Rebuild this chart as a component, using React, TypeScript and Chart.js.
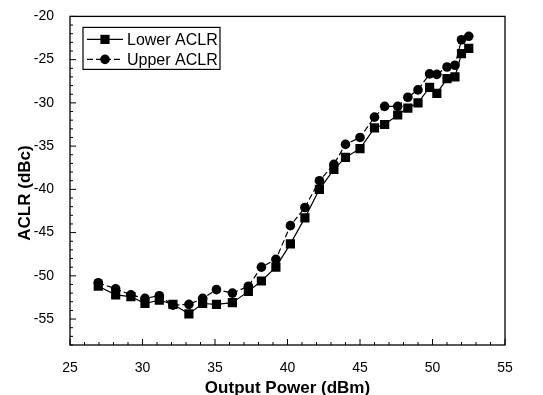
import { useEffect, useRef } from "react";
import { Chart, registerables } from "chart.js";

Chart.register(...registerables);

const outputPower = [26.95, 28.15, 29.2, 30.17, 31.16, 32.1, 33.2, 34.15, 35.1, 36.2, 37.3, 38.2, 39.2, 40.2, 41.2, 42.2, 43.2, 44.0, 45.0, 46.0, 46.7, 47.6, 48.3, 49.0, 49.8, 50.3, 51.0, 51.55, 52.0, 52.5];
const lowerACLR = [-51.2, -52.2, -52.4, -53.2, -52.8, -53.3, -54.4, -53.2, -53.3, -53.1, -51.8, -50.6, -49.0, -46.3, -43.3, -40.0, -37.7, -36.3, -35.3, -32.9, -32.5, -31.4, -30.6, -30.0, -28.2, -28.9, -27.2, -27.0, -24.3, -23.7];
const upperACLR = [-50.8, -51.5, -52.2, -52.6, -52.3, -53.4, -53.3, -52.6, -51.6, -52.0, -51.2, -49.0, -48.1, -44.2, -42.1, -39.0, -37.1, -34.8, -34.0, -31.65, -30.4, -30.4, -29.35, -28.5, -26.65, -26.7, -25.85, -25.65, -22.7, -22.3];
const seriesNames = ["Lower ACLR", "Upper ACLR"];
const xTickLabels = [25, 30, 35, 40, 45, 50, 55];
const yTickLabels = [-55, -50, -45, -40, -35, -30, -25, -20];
const xTitle = "Output Power (dBm)";
const yTitle = "ACLR (dBc)";

const FONT = "'Liberation Sans', Arial, sans-serif";

const frameAndTicks = {
  id: "frameAndTicks",
  afterDatasetsDraw(chart: any) {
    const { ctx, chartArea: a, scales } = chart;
    ctx.save();
    ctx.strokeStyle = "#000";
    ctx.lineWidth = 1.3;
    ctx.setLineDash([]);
    ctx.strokeRect(a.left, a.top, a.right - a.left, a.bottom - a.top);
    ctx.lineWidth = 1;
    const xs = scales.x;
    xs.ticks.forEach((t: any) => {
      const px = xs.getPixelForValue(t.value);
      const major = xTickLabels.includes(t.value);
      const len = major ? 6 : 3;
      ctx.beginPath();
      ctx.moveTo(px, a.bottom);
      ctx.lineTo(px, a.bottom - len);
      ctx.stroke();
    });
    const ys = scales.y;
    ys.ticks.forEach((t: any) => {
      const py = ys.getPixelForValue(t.value);
      const major = yTickLabels.includes(t.value);
      const len = major ? 6 : 3;
      ctx.beginPath();
      ctx.moveTo(a.left, py);
      ctx.lineTo(a.left + len, py);
      ctx.stroke();
    });
    // y-axis title
    ctx.translate(25, 193);
    ctx.rotate(-Math.PI / 2);
    ctx.fillStyle = "#000";
    ctx.font = `bold 17px ${FONT}`;
    ctx.textAlign = "center";
    ctx.textBaseline = "middle";
    ctx.fillText(yTitle, 0, 0);
    ctx.restore();
  },
};

const customLegend = {
  id: "customLegend",
  afterDraw(chart: any) {
    const { ctx, chartArea: a } = chart;
    const bx = a.left + 13;
    const by = a.top + 11;
    const bw = 137;
    const bh = 42;
    ctx.save();
    ctx.fillStyle = "#fff";
    ctx.fillRect(bx, by, bw, bh);
    ctx.strokeStyle = "#000";
    ctx.lineWidth = 1.2;
    ctx.strokeRect(bx, by, bw, bh);
    chart.data.datasets.forEach((ds: any, i: number) => {
      const cy = by + 12 + i * 20;
      const x0 = bx + 4;
      const x1 = bx + 40;
      const mx = (x0 + x1) / 2;
      ctx.strokeStyle = "#000";
      ctx.lineWidth = 1.2;
      ctx.setLineDash(ds.borderDash || []);
      ctx.beginPath();
      ctx.moveTo(x0, cy);
      ctx.lineTo(x1, cy);
      ctx.stroke();
      ctx.setLineDash([]);
      ctx.fillStyle = "#000";
      if (ds.pointStyle === "rect") {
        const s = ds.pointRadius * Math.SQRT1_2;
        ctx.fillRect(mx - s, cy - s, 2 * s, 2 * s);
      } else {
        ctx.beginPath();
        ctx.arc(mx, cy, ds.pointRadius, 0, Math.PI * 2);
        ctx.fill();
      }
      ctx.font = `16px ${FONT}`;
      ctx.textBaseline = "middle";
      ctx.textAlign = "left";
      ctx.fillText(ds.label, x1 + 4, cy + 1);
    });
    ctx.restore();
  },
};

export default function App() {
  const ref = useRef<HTMLCanvasElement | null>(null);

  useEffect(() => {
    document.body.style.margin = "0";
    if (!ref.current) return;
    const chart = new Chart(ref.current, {
      type: "line",
      data: {
        datasets: [
          {
            label: seriesNames[0],
            data: outputPower.map((x, i) => ({ x, y: lowerACLR[i] })),
            borderColor: "#000",
            backgroundColor: "#000",
            borderWidth: 1.2,
            pointStyle: "rect",
            pointRadius: 6.5,
            pointBorderWidth: 0,
            pointBackgroundColor: "#000",
            tension: 0,
          },
          {
            label: seriesNames[1],
            data: outputPower.map((x, i) => ({ x, y: upperACLR[i] })),
            borderColor: "#000",
            backgroundColor: "#000",
            borderWidth: 1.2,
            borderDash: [6, 3],
            pointStyle: "circle",
            pointRadius: 4.8,
            pointBorderWidth: 0,
            pointBackgroundColor: "#000",
            tension: 0,
          },
        ],
      },
      options: {
        animation: false,
        responsive: false,
        maintainAspectRatio: false,
        layout: { padding: { left: 0, top: 14, right: 38, bottom: 0 } },
        plugins: {
          legend: { display: false },
          tooltip: { enabled: false },
        },
        scales: {
          x: {
            type: "linear",
            min: 25,
            max: 55,
            grid: { display: false },
            border: { display: false },
            afterFit: (s: any) => {
              s.height = 50;
            },
            ticks: {
              stepSize: 1,
              autoSkip: false,
              maxRotation: 0,
              padding: 7,
              color: "#000",
              font: { family: FONT, size: 14 },
              callback: (v: any) => (xTickLabels.includes(v) ? String(v) : ""),
            },
            title: {
              display: true,
              text: xTitle,
              color: "#000",
              font: { family: FONT, size: 17, weight: "bold" },
              padding: { top: 0, bottom: -4 },
            },
          },
          y: {
            type: "linear",
            min: -58,
            max: -20,
            grid: { display: false },
            border: { display: false },
            afterFit: (s: any) => {
              s.width = 70;
            },
            ticks: {
              stepSize: 1,
              autoSkip: false,
              padding: 8,
              color: "#000",
              font: { family: FONT, size: 14 },
              callback: (v: any) => (yTickLabels.includes(v) ? String(v) : ""),
            },
            title: { display: false },
          },
        },
      },
      plugins: [frameAndTicks, customLegend],
    } as any);
    return () => chart.destroy();
  }, []);

  return (
    <div style={{ position: "fixed", left: 0, top: 0, width: 543, height: 395, background: "#fff" }}>
      <canvas ref={ref} width={543} height={395} style={{ width: 543, height: 395 }} />
    </div>
  );
}
